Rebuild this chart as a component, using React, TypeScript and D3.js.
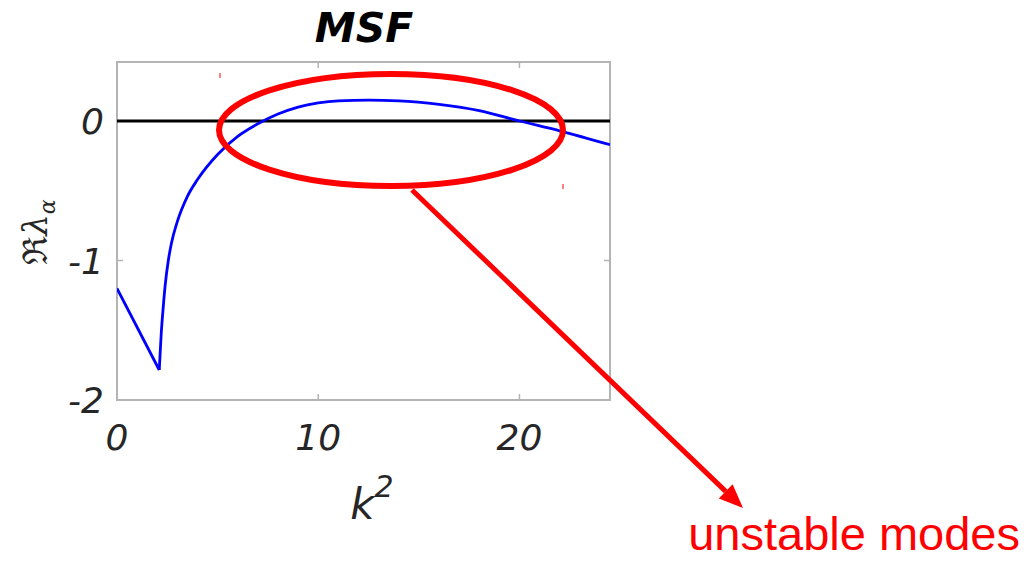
import React from 'react';
import * as d3 from 'd3';

const k2Values = [0, 2.1, 2.15, 2.2, 2.3, 2.4, 2.55, 2.7, 3.0, 3.5, 4.0, 5.0, 6.0, 7.0, 8.0, 9.0, 10.0, 11.0, 12.5, 14.0, 16.0, 18.0, 20.0, 22.0, 24.5];
const msfValues = [-1.2, -1.785, -1.65, -1.52, -1.33, -1.17, -1.0, -0.88, -0.72, -0.54, -0.42, -0.24, -0.11, -0.02, 0.05, 0.1, 0.13, 0.145, 0.15, 0.145, 0.12, 0.075, 0.0, -0.07, -0.17];
const xTicks = [0, 10, 20];
const yTicks = [0, -1, -2];
const xDomain: [number, number] = [0, 24.5];
const yDomain: [number, number] = [-2, 0.423];

const W = 1027;
const H = 561;
const plot = { left: 117, right: 610, top: 62, bottom: 400 };

export default function App() {
  const x = d3.scaleLinear().domain(xDomain).range([plot.left, plot.right]);
  const y = d3.scaleLinear().domain(yDomain).range([plot.bottom, plot.top]);

  const points = k2Values.map((k, i) => [k, msfValues[i]] as [number, number]);
  // the kink at the minimum stays sharp: straight piece before it, smooth after
  const minIdx = d3.minIndex(msfValues);
  const leftPart = points.slice(0, minIdx + 1);
  const rightPart = points.slice(minIdx);

  const straight = d3.line<[number, number]>()
    .x(d => x(d[0]))
    .y(d => y(d[1]));
  const smooth = d3.line<[number, number]>()
    .x(d => x(d[0]))
    .y(d => y(d[1]))
    .curve(d3.curveMonotoneX);

  const axisColor = '#b4b4b4';
  const labelColor = '#262626';
  const tickLen = 6;

  // annotation geometry
  const ell = { cx: 391, cy: 130, rx: 172, ry: 56 };
  const arrowStart = [412, 190];
  const arrowEnd = [743, 508];
  const ang = Math.atan2(arrowEnd[1] - arrowStart[1], arrowEnd[0] - arrowStart[0]);
  const headLen = 24;
  const headW = 10;
  const baseX = arrowEnd[0] - headLen * Math.cos(ang);
  const baseY = arrowEnd[1] - headLen * Math.sin(ang);
  const head = [
    [arrowEnd[0], arrowEnd[1]],
    [baseX + headW * Math.sin(ang), baseY - headW * Math.cos(ang)],
    [baseX - headW * Math.sin(ang), baseY + headW * Math.cos(ang)],
  ].map(p => p.join(',')).join(' ');

  return (
    <svg
      width={W}
      height={H}
      style={{ position: 'absolute', left: 0, top: 0, background: '#fff', display: 'block' }}
    >
      <defs>
        <clipPath id="plotClip">
          <rect x={plot.left} y={plot.top} width={plot.right - plot.left} height={plot.bottom - plot.top} />
        </clipPath>
      </defs>

      {/* title */}
      <text x={364} y={42} textAnchor="middle" fontFamily="DejaVu Sans" fontWeight="bold" fontStyle="italic" fontSize={41} fill="#000">
        MSF
      </text>

      {/* axes box */}
      <rect x={plot.left} y={plot.top} width={plot.right - plot.left} height={plot.bottom - plot.top} fill="none" stroke={axisColor} strokeWidth={2} />

      {/* ticks */}
      {xTicks.map(t => (
        <g key={'xt' + t}>
          <line x1={x(t)} x2={x(t)} y1={plot.bottom} y2={plot.bottom - tickLen} stroke={axisColor} strokeWidth={1.5} />
          <line x1={x(t)} x2={x(t)} y1={plot.top} y2={plot.top + tickLen} stroke={axisColor} strokeWidth={1.5} />
          <text x={x(t)} y={450} textAnchor="middle" fontFamily="DejaVu Sans" fontStyle="italic" fontSize={36} fill={labelColor}>
            {t}
          </text>
        </g>
      ))}
      {yTicks.map(t => (
        <g key={'yt' + t}>
          <line x1={plot.left} x2={plot.left + tickLen} y1={y(t)} y2={y(t)} stroke={axisColor} strokeWidth={1.5} />
          <line x1={plot.right} x2={plot.right - tickLen} y1={y(t)} y2={y(t)} stroke={axisColor} strokeWidth={1.5} />
          <text x={104} y={y(t) + 13} textAnchor="end" fontFamily="DejaVu Sans" fontStyle="italic" fontSize={36} fill={labelColor}>
            {t}
          </text>
        </g>
      ))}

      {/* axis labels */}
      <text x={372} y={519} textAnchor="middle" fontFamily="DejaVu Sans" fontStyle="italic" fontSize={42} fill={labelColor}>
        k<tspan dy={-22} fontSize={30}>2</tspan>
      </text>
      <text
        transform="translate(47,232) rotate(-90)"
        textAnchor="middle"
        fontFamily="DejaVu Serif"
        fontSize={34}
        fill={labelColor}
      >
        ℜ<tspan fontStyle="italic">λ</tspan><tspan fontStyle="italic" fontSize={22} dy={8}>α</tspan>
      </text>

      {/* zero line and MSF curve */}
      <g clipPath="url(#plotClip)">
        <line x1={plot.left} x2={plot.right} y1={y(0)} y2={y(0)} stroke="#000" strokeWidth={3} />
        <path d={straight(leftPart) || ''} fill="none" stroke="#0000ff" strokeWidth={2.8} strokeLinejoin="miter" />
        <path d={smooth(rightPart) || ''} fill="none" stroke="#0000ff" strokeWidth={2.8} />
      </g>

      {/* annotation */}
      <ellipse cx={ell.cx} cy={ell.cy} rx={ell.rx} ry={ell.ry} fill="none" stroke="#ff0000" strokeWidth={6} />
      <line x1={arrowStart[0]} y1={arrowStart[1]} x2={baseX} y2={baseY} stroke="#ff0000" strokeWidth={5} />
      <polygon points={head} fill="#ff0000" />
      <line x1={220} x2={220} y1={73} y2={78} stroke="#ff0000" strokeWidth={1} />
      <line x1={563} x2={563} y1={184} y2={189} stroke="#ff0000" strokeWidth={1} />
      <text x={1020} y={550} textAnchor="end" fontFamily="Liberation Sans" fontSize={47} fill="#ff0000">
        unstable modes
      </text>
    </svg>
  );
}
